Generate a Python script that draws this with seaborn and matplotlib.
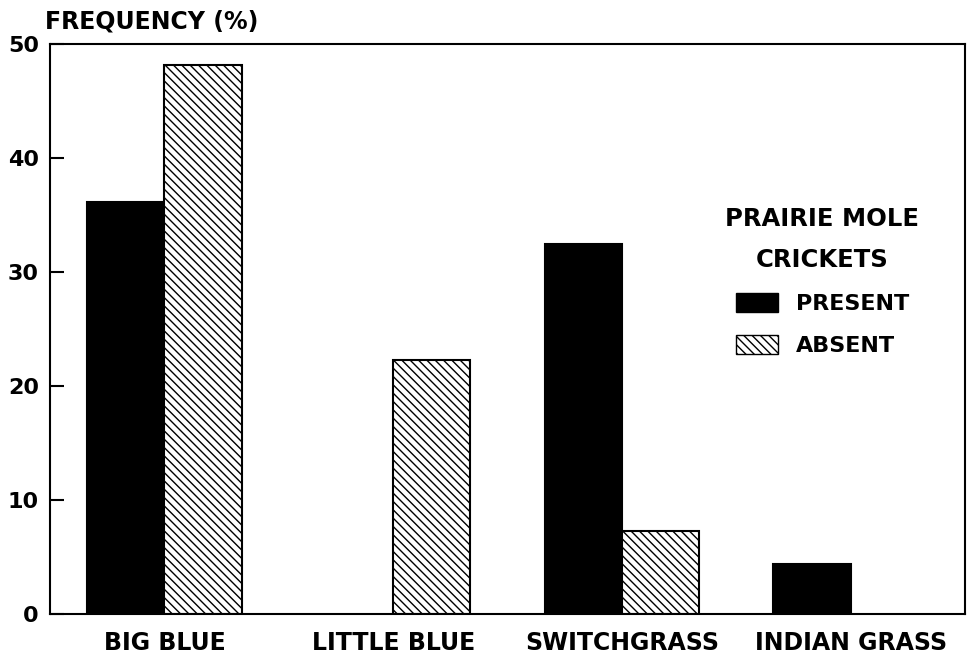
import matplotlib
matplotlib.use("Agg")
import matplotlib.pyplot as plt
import seaborn as sns
import pandas as pd
from matplotlib.patches import Patch

categories = ["BIG BLUE", "LITTLE BLUE", "SWITCHGRASS", "INDIAN GRASS"]
present = [36.1, 0.0, 32.5, 4.4]
absent = [48.2, 22.3, 7.3, 0.0]
groups = ["PRESENT", "ABSENT"]
yticks = [0, 10, 20, 30, 40, 50]

sns.set_theme(style="white")
plt.rcParams["font.family"] = ["DejaVu Sans"]
plt.rcParams["font.weight"] = "bold"
plt.rcParams["text.color"] = "black"
plt.rcParams["xtick.color"] = "black"
plt.rcParams["ytick.color"] = "black"
plt.rcParams["hatch.linewidth"] = 1.0

df = pd.DataFrame({
    "grass": categories * 2,
    "freq": present + absent,
    "status": [groups[0]] * len(categories) + [groups[1]] * len(categories),
})

fig = plt.figure(figsize=(9.71, 6.53), dpi=100)
ax = fig.add_axes([50 / 971, 39 / 653, 915 / 971, 570 / 653])

sns.barplot(data=df, x="grass", y="freq", hue="status", order=categories,
            hue_order=groups, palette={"PRESENT": "black", "ABSENT": "white"},
            width=0.675, edgecolor="black", linewidth=1.5, legend=False,
            errorbar=None, ax=ax)

hatch = "\\\\\\\\"
for bar in ax.patches:
    fc = bar.get_facecolor()
    if fc[0] > 0.5:
        bar.set_hatch(hatch)
    if bar.get_height() == 0:
        bar.set_linewidth(0)

ax.set_xlim(-0.5, 3.5)
ax.set_ylim(0, 50)
ax.set_yticks(yticks)
ax.set_yticklabels([str(t) for t in yticks], fontsize=16, fontweight="bold",
                   color="black")
ax.tick_params(axis="y", direction="in", length=10, width=1.5, pad=8, left=True)
ax.tick_params(axis="x", length=0, pad=12, labelsize=17, labelcolor="black")
for lab in ax.get_xticklabels():
    lab.set_fontweight("bold")
ax.set_xlabel("")
ax.set_ylabel("")
for sp in ax.spines.values():
    sp.set_linewidth(1.5)
    sp.set_color("black")

fig.text(45 / 971, 1 - 21 / 653, "FREQUENCY (%)", ha="left", va="center",
         fontsize=17, fontweight="bold", color="black")

handles = [Patch(facecolor="black", edgecolor="black"),
           Patch(facecolor="white", edgecolor="black", hatch=hatch)]
leg = ax.legend(handles, groups, title="PRAIRIE MOLE\nCRICKETS", frameon=False,
                loc="upper left", bbox_to_anchor=(0.716, 0.749),
                prop={"size": 16, "weight": "bold"}, handlelength=1.9,
                handleheight=0.95, handletextpad=0.8, labelspacing=0.93)
leg.get_title().set_fontsize(17.5)
leg.get_title().set_fontweight("bold")
leg.get_title().set_color("black")
leg.get_title().set_multialignment("center")
leg.get_title().set_linespacing(1.9)
for t in leg.get_texts():
    t.set_color("black")
leg._legend_box.align = "center"

fig.savefig("out.png", dpi=100)
